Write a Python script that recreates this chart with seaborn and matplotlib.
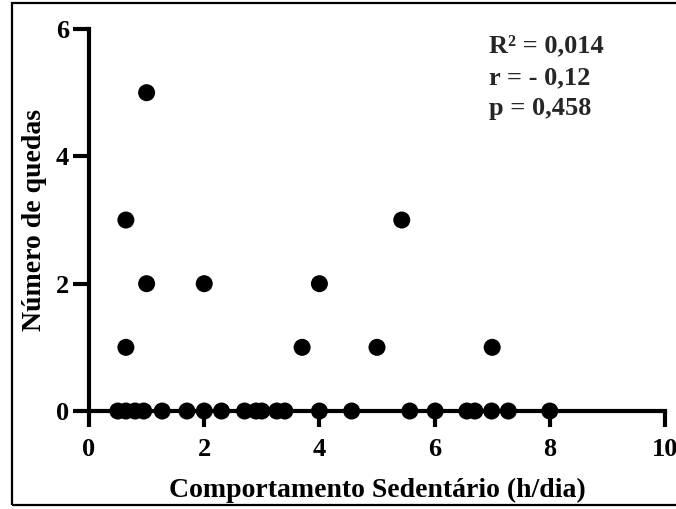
import pandas as pd
import seaborn as sns
import matplotlib.pyplot as plt
from matplotlib.patches import Rectangle

# Sedentary behaviour (h/day) and number of falls
sedentario = [0.5, 0.64, 0.8, 0.95, 1.27, 1.7, 2.0, 2.3, 2.7, 2.9, 3.0, 3.26, 3.4,
              4.0, 4.56, 5.57, 6.01, 6.56, 6.7, 6.99, 7.28, 8.0,
              0.64, 3.7, 5.0, 7.0,
              1.0, 2.0, 4.0,
              0.64, 5.43,
              1.0]
quedas = [0] * 22 + [1] * 4 + [2] * 3 + [3] * 2 + [5]

x_ticks = [0, 2, 4, 6, 8, 10]
y_ticks = [0, 2, 4, 6]
stats_text = "R² = 0,014\nr = - 0,12\np = 0,458"

data = pd.DataFrame({'sedentario': sedentario, 'quedas': quedas})

sns.set_theme(style="white")
plt.rcParams['font.family'] = ['Liberation Serif', 'DejaVu Serif']
plt.rcParams['font.weight'] = 'bold'

fig = plt.figure(figsize=(6.76, 5.09), dpi=100)
ax = fig.add_axes([0.1317, 0.1925, 0.852, 0.7505])

sns.scatterplot(data=data, x='sedentario', y='quedas', color='black', s=150,
                edgecolor='none', clip_on=False, zorder=5, ax=ax)

ax.set_xlim(0, 10)
ax.set_ylim(0, 6)
ax.set_xticks(x_ticks)
ax.set_yticks(y_ticks)

for side in ['top', 'right']:
    ax.spines[side].set_visible(False)
for side in ['left', 'bottom']:
    ax.spines[side].set_linewidth(3)
    ax.spines[side].set_color('black')

ax.tick_params(axis='both', direction='out', length=11.5, width=3, color='black',
               labelsize=19, labelcolor='black', bottom=True, left=True)
ax.tick_params(axis='x', pad=8)
ax.tick_params(axis='y', pad=3)
for lbl in ax.get_xticklabels() + ax.get_yticklabels():
    lbl.set_fontweight('bold')

ax.set_xlabel('Comportamento Sedentário (h/dia)', fontsize=20, fontweight='bold',
              color='black', labelpad=12)
ax.set_ylabel('Número de quedas', fontsize=20, fontweight='bold', color='black',
              labelpad=6)

ax.text(0.695, 0.985, stats_text, transform=ax.transAxes, fontsize=19,
        fontweight='bold', va='top', ha='left', linespacing=1.45)

# frame around the whole picture
fig.patches.append(Rectangle((12 / 676, 4 / 509), 1.0, 502 / 509,
                             transform=fig.transFigure, fill=False,
                             edgecolor='black', linewidth=1.6))

fig.savefig('out.png', dpi=100)
